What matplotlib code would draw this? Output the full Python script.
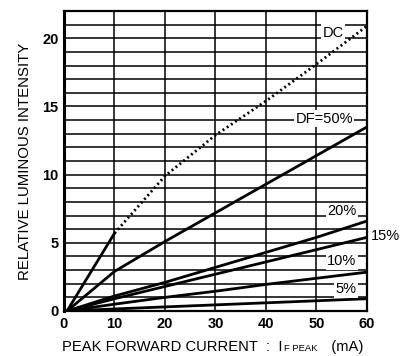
import matplotlib
matplotlib.use("Agg")
import matplotlib.pyplot as plt
from matplotlib.offsetbox import TextArea, HPacker, AnchoredOffsetbox

plt.rcParams['font.family'] = ['Liberation Sans', 'DejaVu Sans']

# Peak forward current (mA) and relative luminous intensity per duty factor
current_mA = [0.6, 10, 20, 30, 40, 50, 60]
dc_low_x = [0.6, 10]
dc_low_y = [0, 5.7]
dc_high_x = [10, 20, 30, 40, 50, 60]
dc_high_y = [5.7, 9.9, 12.9, 15.4, 18.1, 20.9]
df50 = [0, 2.9, 5.1, 7.2, 9.3, 11.4, 13.5]
df20 = [0, 1.1, 2.1, 3.2, 4.3, 5.4, 6.6]
df15 = [0, 0.9, 1.8, 2.7, 3.6, 4.5, 5.4]
df10 = [0, 0.5, 1.0, 1.45, 1.95, 2.4, 2.85]
df5 = [0, 0.15, 0.3, 0.45, 0.6, 0.75, 0.9]

x_ticks = [0, 10, 20, 30, 40, 50, 60]
y_ticks = [0, 5, 10, 15, 20]

W, H = 414, 356
fig = plt.figure(figsize=(W / 100, H / 100), dpi=100)
ax = fig.add_axes([64 / W, 1 - 311 / H, (367 - 64) / W, (311 - 11) / H])

ax.set_xlim(0, 60)
ax.set_ylim(0, 22)

# grid: every 10 mA vertically, every unit horizontally
for gx in range(10, 60, 10):
    ax.axvline(gx, color='black', lw=1.1, zorder=1)
for gy in range(1, 22):
    ax.axhline(gy, color='black', lw=1.1, zorder=1)

lw = 2.0
ax.plot(dc_low_x, dc_low_y, color='black', lw=lw, zorder=3)
ax.plot(dc_high_x, dc_high_y, color='black', lw=2.0, ls=(0, (0.7, 1.1)), zorder=3)
for series in (df50, df20, df15, df10, df5):
    ax.plot(current_mA, series, color='black', lw=lw, zorder=3)

label_style = dict(fontsize=10.5, ha='center', va='center', zorder=4,
                   bbox=dict(facecolor='white', edgecolor='none', pad=1.0))
ax.text(53.3, 20.4, 'DC', **label_style)
ax.text(51.5, 14.1, 'DF=50%', **label_style)
ax.text(55.0, 7.3, '20%', **label_style)
ax.text(55.0, 3.65, '10%', **label_style)
ax.text(55.8, 1.6, '5%', **label_style)
ax.text(63.6, 5.5, '15%', fontsize=10.5, ha='center', va='center', clip_on=False)

ax.set_xticks(x_ticks)
ax.set_yticks(y_ticks)
ax.tick_params(length=0, pad=4, labelsize=10.5)
for lab in ax.get_xticklabels() + ax.get_yticklabels():
    lab.set_fontweight('bold')

for side in ('top', 'right', 'bottom'):
    ax.spines[side].set_linewidth(1.6)
ax.spines['left'].set_linewidth(2.2)

ax.set_ylabel('RELATIVE LUMINOUS INTENSITY', fontsize=10.8, labelpad=7.5)

# x-axis title with small-capital subscript "F PEAK"
parts = HPacker(children=[
    TextArea('PEAK FORWARD CURRENT  :  I', textprops=dict(fontsize=10.6)),
    TextArea('F PEAK', textprops=dict(fontsize=6.8)),
    TextArea('   (mA)', textprops=dict(fontsize=10.6)),
], align='baseline', pad=0, sep=1)
anchored = AnchoredOffsetbox(loc='center left', child=parts, pad=0, borderpad=0,
                             frameon=False, bbox_to_anchor=(62 / W, 9 / H),
                             bbox_transform=fig.transFigure)
fig.add_artist(anchored)

fig.savefig('out.png', dpi=100)
